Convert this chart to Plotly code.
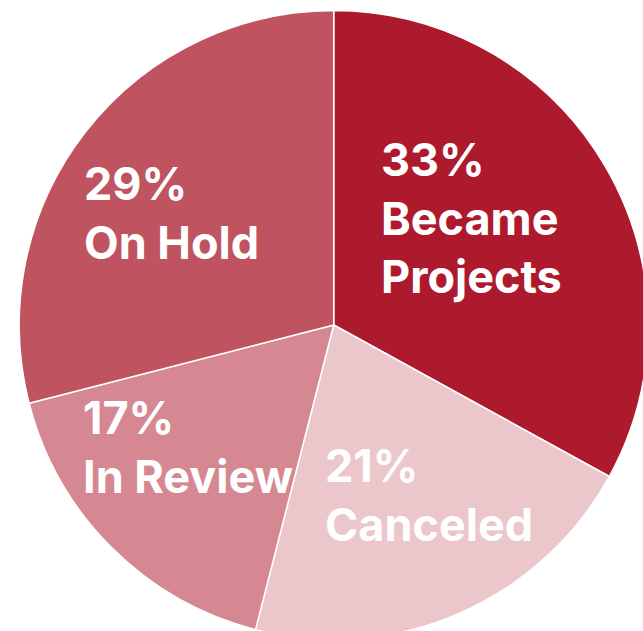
import math
import plotly.graph_objects as go

# Outcome of submitted ideas
categories = ["Became<br>Projects", "Canceled", "In Review", "On Hold"]
shares = [33, 21, 17, 29]
colors = ["#AD1A2D", "#EBC6CB", "#D58891", "#C05360"]

# Canvas and pie geometry (pixels)
W, H = 668, 656
cx, cy, R = 333.7, 325.0, 314.5
label_r = 0.595 * R
label_shift = [(-23, -12), (21, -2), (-13, -10), (-14, 3)]

fig = go.Figure(
    go.Pie(
        labels=[c.replace("<br>", " ") for c in categories],
        values=shares,
        sort=False,
        direction="clockwise",
        rotation=0,
        textinfo="none",
        hoverinfo="label+percent",
        marker=dict(colors=colors, line=dict(color="white", width=1.5)),
        domain=dict(x=[(cx - R) / W, (cx + R) / W], y=[(H - cy - R) / H, (H - cy + R) / H]),
        showlegend=False,
    )
)

# Left-aligned labels placed at each slice's mid angle
total = sum(shares)
start = 0.0
for cat, val, (dx, dy) in zip(categories, shares, label_shift):
    frac = val / total
    mid = (start + frac / 2) * 2 * math.pi
    start += frac
    px = cx + label_r * math.sin(mid) + dx
    py = cy - label_r * math.cos(mid) + dy
    fig.add_annotation(
        x=px / W, y=1 - py / H, xref="paper", yref="paper",
        text=f"{val}%<br>{cat}", showarrow=False,
        xanchor="center", yanchor="middle", align="left",
        font=dict(family="Inter", size=45, color="white", weight="bold"),
    )

fig.update_layout(
    width=W, height=H,
    margin=dict(l=0, r=0, t=0, b=0),
    paper_bgcolor="white", plot_bgcolor="white",
)

fig.write_html(
    "out.html",
    post_script="document.documentElement.style.overflow='hidden';document.body.style.overflow='hidden';",
)
